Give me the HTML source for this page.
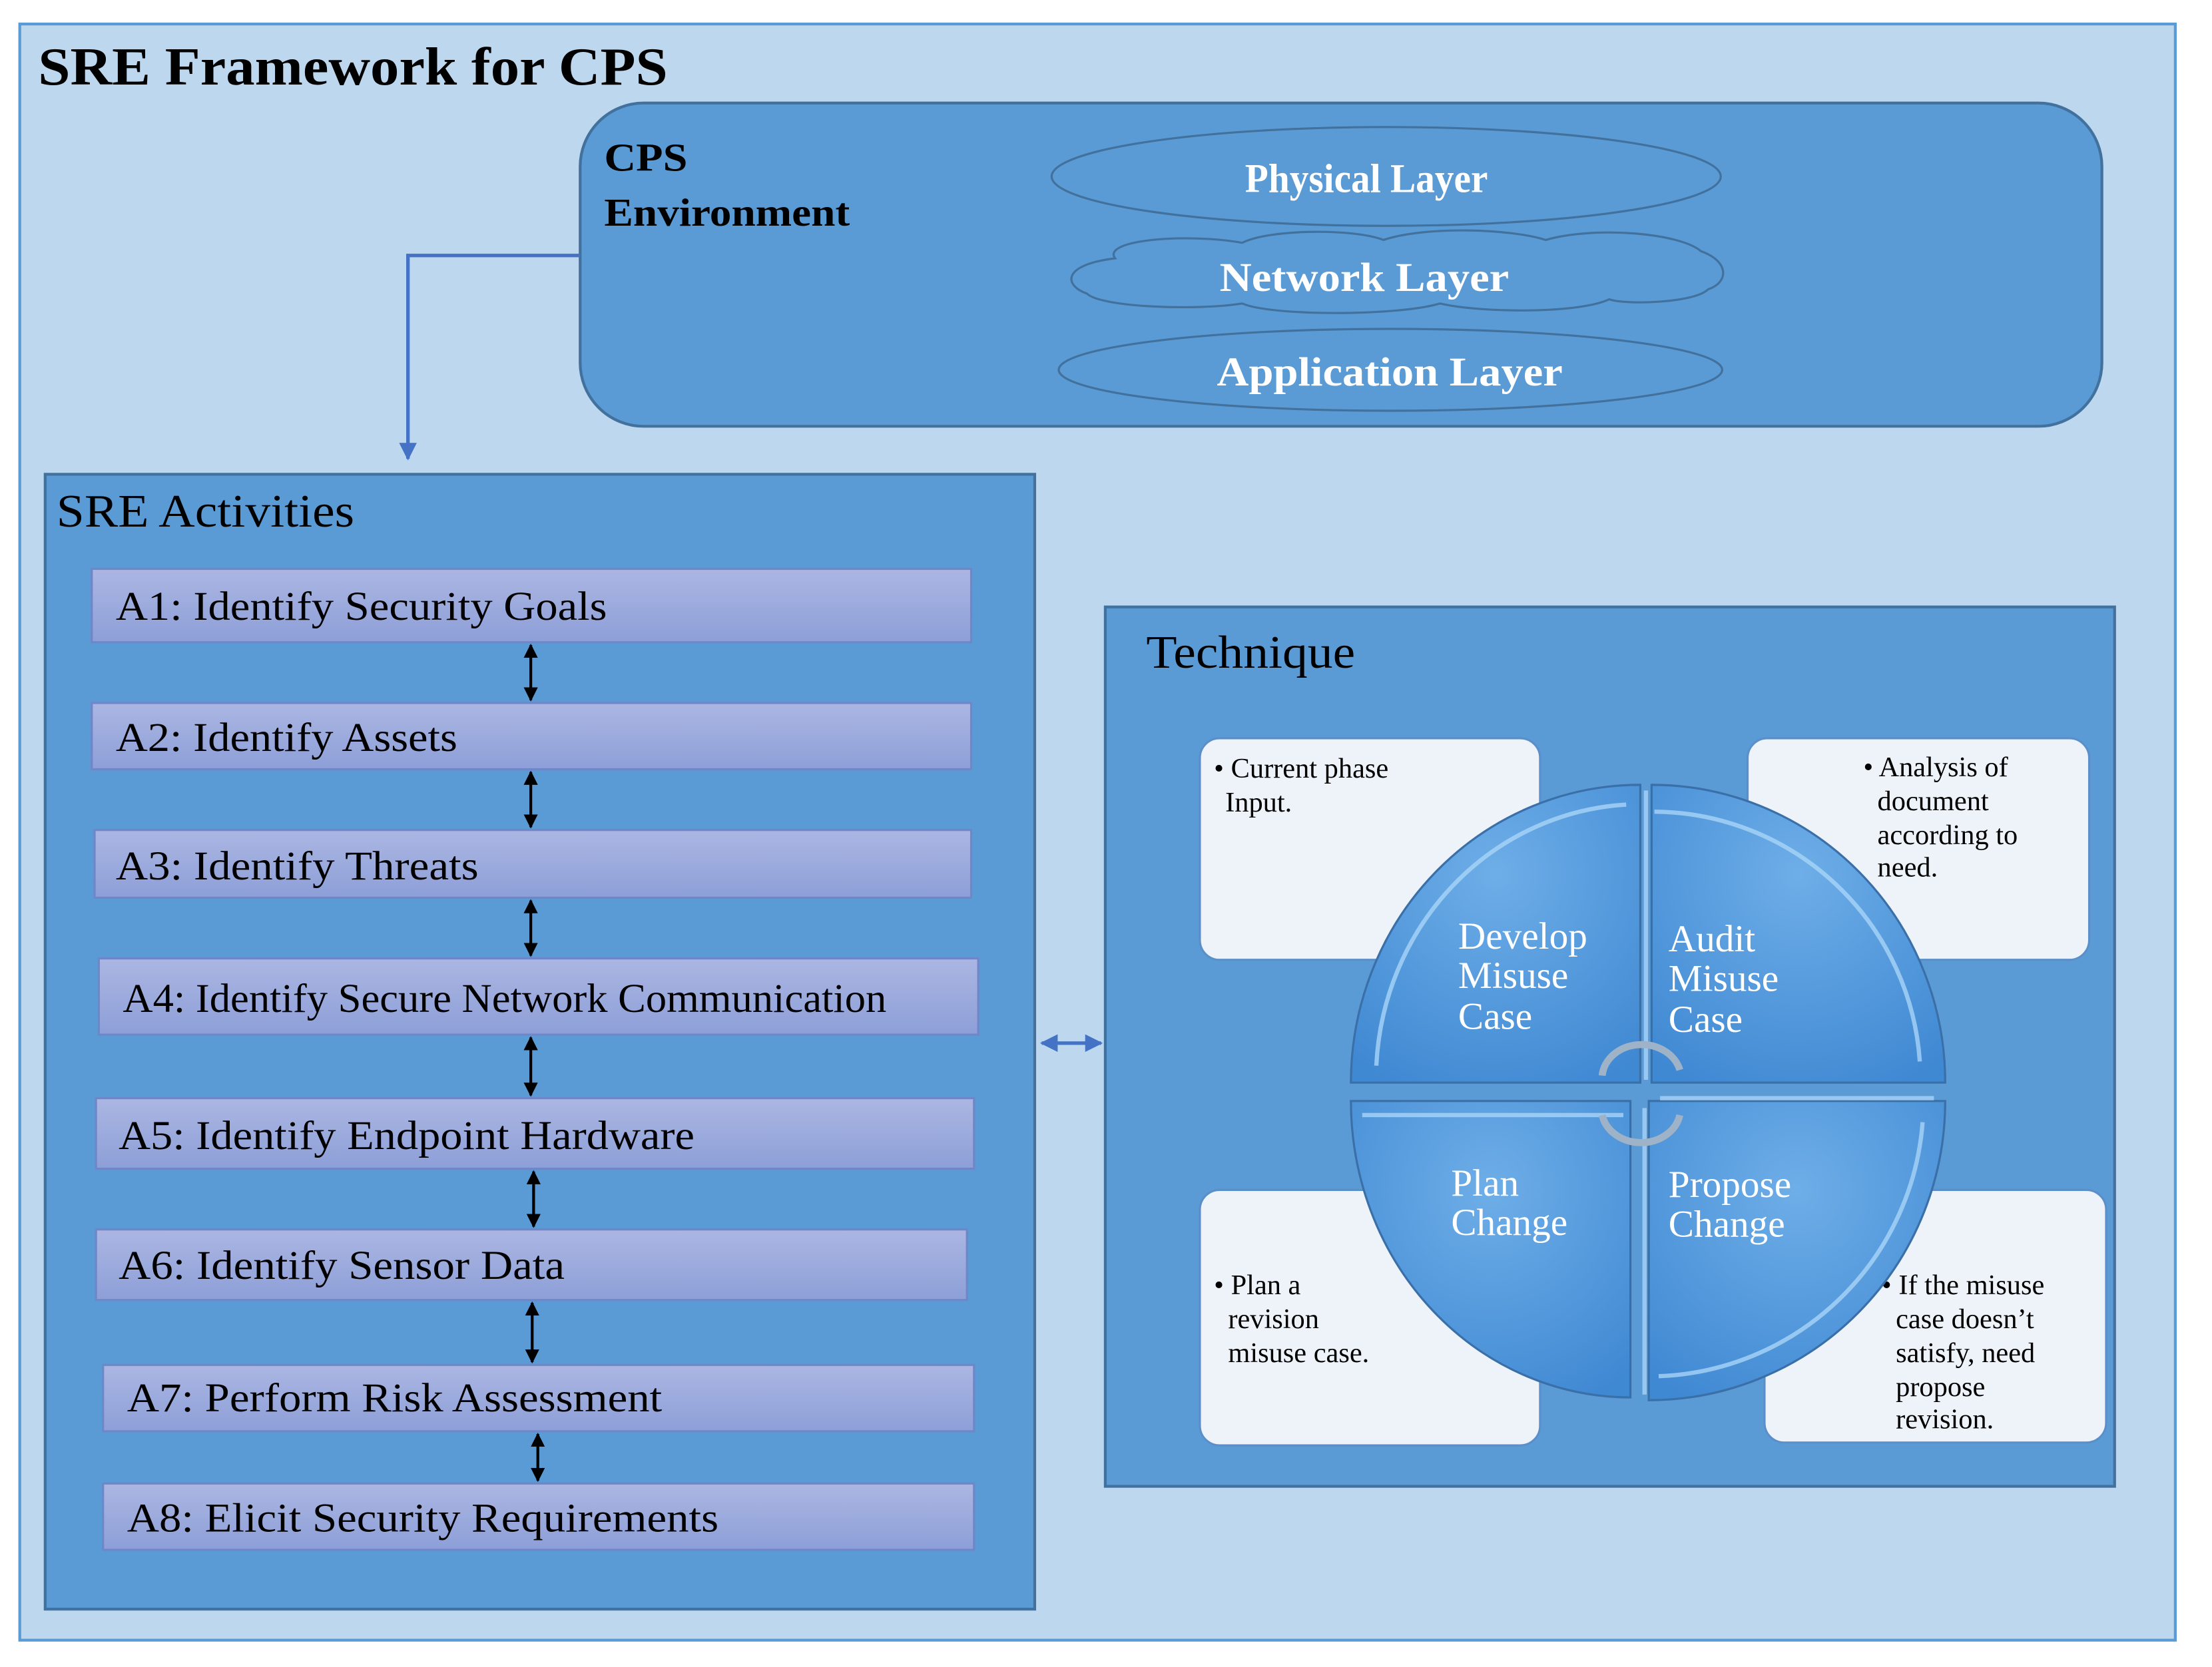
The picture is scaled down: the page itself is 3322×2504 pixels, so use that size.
<!DOCTYPE html>
<html><head><meta charset="utf-8"><style>html,body{margin:0;padding:0;background:#fff}svg{display:block}</style></head>
<body>
<svg width="3322" height="2504" viewBox="0 0 1567 1181" preserveAspectRatio="none" xmlns="http://www.w3.org/2000/svg" font-family="'Liberation Serif', serif">
<defs>
<linearGradient id="act" x1="0" y1="0" x2="0" y2="1"><stop offset="0" stop-color="#abb6e2"/><stop offset="1" stop-color="#8d9fd8"/></linearGradient>
<radialGradient id="pie" cx="0.5" cy="0.3" r="0.8"><stop offset="0" stop-color="#6eaee8"/><stop offset="1" stop-color="#3f88d2"/></radialGradient>
<marker id="ah" viewBox="0 0 10 10" refX="9" refY="5" markerWidth="5" markerHeight="5" orient="auto-start-reverse"><path d="M0,0 L10,5 L0,10 z" fill="#000"/></marker>
<marker id="ahb" viewBox="0 0 10 10" refX="9" refY="5" markerWidth="5" markerHeight="5" orient="auto-start-reverse"><path d="M0,0 L10,5 L0,10 z" fill="#4472c4"/></marker>
</defs>
<rect x="0" y="0" width="1567" height="1181" fill="#fff"/>
<rect x="14" y="17" width="1527" height="1145" fill="#bdd7ee" stroke="#5b9bd5" stroke-width="2"/>
<text x="27" y="60" font-size="38" font-weight="bold" textLength="446" lengthAdjust="spacingAndGlyphs">SRE Framework for CPS</text>

<rect x="411" y="73" width="1078" height="229" rx="45" fill="#5b9bd5" stroke="#41719c" stroke-width="2"/>
<text x="428" y="121" font-size="28" font-weight="bold" textLength="59" lengthAdjust="spacingAndGlyphs">CPS</text>
<text x="428" y="160" font-size="28" font-weight="bold" textLength="174" lengthAdjust="spacingAndGlyphs">Environment</text>
<ellipse cx="982" cy="125" rx="237" ry="35" fill="#5b9bd5" stroke="#41719c" stroke-width="1.5"/>
<text x="882" y="136" font-size="29" font-weight="bold" fill="#fff" textLength="172" lengthAdjust="spacingAndGlyphs">Physical Layer</text>
<path d="M790,183 C780,170 840,165 880,172 C900,162 960,162 980,170 C1010,160 1070,162 1095,170 C1130,160 1190,165 1205,178 C1225,185 1225,200 1210,205 C1200,215 1150,216 1140,212 C1120,222 1050,222 1020,215 C990,224 900,224 880,215 C850,220 780,218 770,208 C755,203 750,188 790,183 Z" fill="#5b9bd5" stroke="#41719c" stroke-width="1.5"/>
<text x="864" y="206" font-size="29" font-weight="bold" fill="#fff" textLength="205" lengthAdjust="spacingAndGlyphs">Network Layer</text>
<ellipse cx="985" cy="262" rx="235" ry="29" fill="#5b9bd5" stroke="#41719c" stroke-width="1.5"/>
<text x="862" y="273" font-size="29" font-weight="bold" fill="#fff" textLength="245" lengthAdjust="spacingAndGlyphs">Application Layer</text>

<path d="M411,181 L289,181 L289,325" fill="none" stroke="#4472c4" stroke-width="2.5" marker-end="url(#ahb)"/>

<rect x="32" y="336" width="701" height="804" fill="#5b9bd5" stroke="#41719c" stroke-width="2"/>
<text x="40" y="373" font-size="33" textLength="211" lengthAdjust="spacingAndGlyphs">SRE Activities</text>
<g stroke="#6f86c9" stroke-width="1.5" fill="url(#act)">
<rect x="65" y="403" width="623" height="52"/>
<rect x="65" y="498" width="623" height="47"/>
<rect x="67" y="588" width="621" height="48"/>
<rect x="70" y="679" width="623" height="54"/>
<rect x="68" y="778" width="622" height="50"/>
<rect x="68" y="871" width="617" height="50"/>
<rect x="73" y="967" width="617" height="47"/>
<rect x="73" y="1051" width="617" height="47"/>
</g>
<g font-size="29" fill="#000">
<text x="82" y="439" textLength="348" lengthAdjust="spacingAndGlyphs">A1: Identify Security Goals</text>
<text x="82" y="532" textLength="242" lengthAdjust="spacingAndGlyphs">A2: Identify Assets</text>
<text x="82" y="623" textLength="257" lengthAdjust="spacingAndGlyphs">A3: Identify Threats</text>
<text x="87" y="717" textLength="541" lengthAdjust="spacingAndGlyphs">A4: Identify Secure Network Communication</text>
<text x="84" y="814" textLength="408" lengthAdjust="spacingAndGlyphs">A5: Identify Endpoint Hardware</text>
<text x="84" y="906" textLength="316" lengthAdjust="spacingAndGlyphs">A6: Identify Sensor Data</text>
<text x="90" y="1000" textLength="379" lengthAdjust="spacingAndGlyphs">A7: Perform Risk Assessment</text>
<text x="90" y="1085" textLength="419" lengthAdjust="spacingAndGlyphs">A8: Elicit Security Requirements</text>
</g>
<g stroke="#000" stroke-width="2" marker-start="url(#ah)" marker-end="url(#ah)">
<line x1="376" y1="457" x2="376" y2="496"/>
<line x1="376" y1="547" x2="376" y2="586"/>
<line x1="376" y1="638" x2="376" y2="677"/>
<line x1="376" y1="735" x2="376" y2="776"/>
<line x1="378" y1="830" x2="378" y2="869"/>
<line x1="377" y1="923" x2="377" y2="965"/>
<line x1="381" y1="1016" x2="381" y2="1049"/>
</g>
<line x1="738" y1="739" x2="780" y2="739" stroke="#4472c4" stroke-width="2.5" marker-start="url(#ahb)" marker-end="url(#ahb)"/>

<rect x="783" y="430" width="715" height="623" fill="#5b9bd5" stroke="#41719c" stroke-width="2"/>
<text x="812" y="473" font-size="33" textLength="148" lengthAdjust="spacingAndGlyphs">Technique</text>
<g fill="#eef3fa" stroke="#5b8fc9" stroke-width="1.5">
<rect x="850" y="523" width="241" height="157" rx="14"/>
<rect x="1238" y="523" width="242" height="157" rx="14"/>
<rect x="850" y="843" width="241" height="181" rx="14"/>
<rect x="1250" y="843" width="242" height="179" rx="14"/>
</g>
<g font-size="20" fill="#000">
<text x="860" y="551">• Current phase</text>
<text x="868" y="575">Input.</text>
<text x="1320" y="550">• Analysis  of</text>
<text x="1330" y="574">document</text>
<text x="1330" y="598">according to</text>
<text x="1330" y="621">need.</text>
<text x="860" y="917">• Plan a</text>
<text x="870" y="941">revision</text>
<text x="870" y="965">misuse case.</text>
<text x="1333" y="917">• If the misuse</text>
<text x="1343" y="941">case doesn’t</text>
<text x="1343" y="965">satisfy, need</text>
<text x="1343" y="989">propose</text>
<text x="1343" y="1012">revision.</text>
</g>
<g fill="url(#pie)" stroke="#3a6fa8" stroke-width="1.5">
<path d="M1162,767 L957,767 A205,211 0 0 1 1162,556 Z"/>
<path d="M1170,767 L1378,767 A208,211 0 0 0 1170,556 Z"/>
<path d="M1155,780 L957,780 A198,210 0 0 0 1155,990 Z"/>
<path d="M1168,780 L1378,780 A210,212 0 0 1 1168,992 Z"/>
</g>
<g fill="none" stroke="#a8d4f8" stroke-width="3" opacity="0.8">
<path d="M1172,575 A190,190 0 0 1 1360,752"/>
<path d="M975,755 A188,195 0 0 1 1152,570"/>
<path d="M1175,975 A195,195 0 0 0 1362,795"/>
<path d="M965,790 L1150,790"/>
<path d="M1176,778 L1370,778"/>
<path d="M1166,560 L1166,765"/>
<path d="M1165,785 L1165,988"/>
</g>
<g font-size="27" fill="#fff">
<text x="1033" y="672">Develop</text>
<text x="1033" y="700">Misuse</text>
<text x="1033" y="729">Case</text>
<text x="1182" y="674">Audit</text>
<text x="1182" y="702">Misuse</text>
<text x="1182" y="731">Case</text>
<text x="1028" y="847">Plan</text>
<text x="1028" y="875">Change</text>
<text x="1182" y="848">Propose</text>
<text x="1182" y="876">Change</text>
</g>
<g fill="none" stroke="#9fb3c8" stroke-width="5">
<path d="M1135,762 A28,24 0 0 1 1190,758"/>
<path d="M1190,790 A28,24 0 0 1 1135,790"/>
</g>
</svg>
</body></html>
